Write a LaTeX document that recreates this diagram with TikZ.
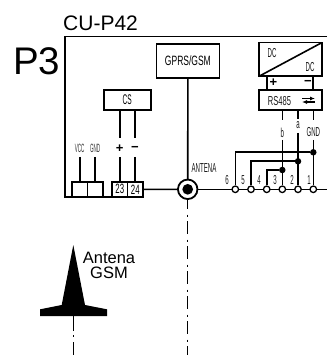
\documentclass[tikz,border=0pt]{standalone}
\usepackage{fontspec}
\usetikzlibrary{arrows.meta}
\setmainfont{Liberation Sans}
\newfontfamily\nfa[FakeStretch=0.38]{Liberation Sans}
\newfontfamily\nfb[FakeStretch=0.47]{Liberation Sans}
\newfontfamily\nfc[FakeStretch=0.58]{Liberation Sans}
\newfontfamily\nfd[FakeStretch=0.63]{Liberation Sans}
\begin{document}
\begin{tikzpicture}[x=1pt,y=-1pt,
  wire/.style={line width=1.6pt,draw=black},
  dashdot/.style={line width=1.3pt,draw=black,dash pattern=on 13pt off 5.2pt on 2pt off 4.8pt,dash phase=2.6pt},
  dashdotb/.style={line width=1.3pt,draw=black,dash pattern=on 15pt off 4.2pt on 2pt off 4.8pt},
  boxn/.style={draw=black,line width=1.6pt,fill=white,inner sep=0pt,outer sep=0pt,anchor=north west},
  term/.style={circle,draw=black,line width=1.3pt,fill=white,inner sep=0pt,minimum size=6.5pt},
  jdot/.style={circle,fill=black,inner sep=0pt,minimum size=6.5pt},
  lab/.style={inner sep=0pt,text=black!90,font=\nfb\fontsize{13}{13}\selectfont},
  tiny/.style={inner sep=0pt,text=black!80,font=\nfa\fontsize{12}{12}\selectfont},
  sign/.style={inner sep=0pt,font=\fontsize{13}{13}\selectfont\bfseries}]
\useasboundingbox (0,0) rectangle (327,355);
% frame
\coordinate (fr) at (327,36.5);
\coordinate (fl) at (64.8,36.5);
\coordinate (bl) at (64.8,197);
\coordinate (br) at (327,189.3);
\node[inner sep=0pt,anchor=west,font=\fontsize{21}{21}\selectfont] (title) at (63,23) {CU-P42};
\node[inner sep=0pt,anchor=west,font=\fontsize{38.5}{38}\selectfont] (p3) at (13,61) {P3};
% terminal blocks
\draw[wire] (fr) -- (fl) -- (bl) -- (112,197);
\node[boxn,minimum width=15.5pt,minimum height=15.3pt] (tA) at (72,181.7) {};
\node[boxn,minimum width=15.5pt,minimum height=15.3pt] (tB) at (87.5,181.7) {};
\node[boxn,minimum width=15.5pt,minimum height=15.3pt,font=\nfc\fontsize{13.5}{13}\selectfont] (t23) at (112,181.7) {23};
\node[boxn,minimum width=15.5pt,minimum height=15.3pt,font=\nfc\fontsize{13.5}{13}\selectfont] (t24) at (127.5,181.7) {24};
% CS
\node[boxn,minimum width=47pt,minimum height=20pt,font=\nfb\fontsize{14}{14}\selectfont] (cs) at (103.7,90) {CS};
\coordinate (csa) at (119.7,110); \coordinate (csb) at (135,110);
\coordinate (csa1) at (119.7,138); \coordinate (csb1) at (135,138);
\coordinate (csa2) at (119.7,157); \coordinate (csb2) at (135,157);
\coordinate (csa3) at (119.7,182); \coordinate (csb3) at (135,182);
\draw[wire] (csa) -- (csa1) (csb) -- (csb1) (csa2) -- (csa3) (csb2) -- (csb3);
\node[sign] (plus) at (119.7,148.5) {+};
\node[sign] (minus) at (135,148.5) {−};
\coordinate (va) at (79.7,157); \coordinate (va1) at (79.7,182);
\coordinate (vb) at (95.2,157); \coordinate (vb1) at (95.2,182);
\draw[wire] (va) -- (va1) (vb) -- (vb1);
\node[tiny] (vcc) at (79.7,148.5) {VCC};
\node[tiny] (gndl) at (95.2,148.5) {GND};
% GPRS
\node[boxn,minimum width=62.8pt,minimum height=34pt,font=\nfd\fontsize{13.5}{13}\selectfont] (gprs) at (156.5,44) {GPRS/GSM};
\node[circle,draw=black,line width=1.8pt,fill=white,minimum size=19.5pt,inner sep=0pt,outer sep=0pt] (ant) at (187.7,189.3) {};
\node[circle,fill=black,minimum size=10.7pt,inner sep=0pt] (antin) at (187.7,189.3) {};
\node[lab] (antena) at (204,168) {ANTENA};
\draw[wire] (gprs.south) -- (ant.north);
\draw[wire] (t24.east) -- (ant.west);
\coordinate (antend) at (187.7,355);
\draw[dashdot] (ant.south) -- (antend);
% DC/DC + RS485
\node[boxn,minimum width=62.7pt,minimum height=33.6pt] (dc) at (259,42.7) {};
\draw[wire] (dc.south west) -- (dc.north east);
\node[lab] (dc1) at (272,53.5) {DC};
\node[lab] (dc2) at (310,67.5) {DC};
\node[boxn,minimum width=62.7pt,minimum height=20pt] (rs) at (259,90) {};
\node[lab,font=\nfc\fontsize{13}{13}\selectfont] (rstxt) at (279.5,101.5) {RS485};
\coordinate (pa) at (267,76.3); \coordinate (pb) at (267,90);
\coordinate (ma) at (313,76.3); \coordinate (mb) at (313,90);
\draw[wire] (pa) -- (pb) (ma) -- (mb);
\node[sign] (dcp) at (273.5,83) {+};
\node[sign] (dcm) at (308,83) {−};
% arrows symbol
\coordinate (s1a) at (302,98.5); \coordinate (s1b) at (315,98.5);
\coordinate (s2a) at (302,102); \coordinate (s2b) at (315,102);
\draw[line width=1.2pt,-{Latex[length=5pt,width=4pt]}] (s1a) -- (s1b);
\draw[line width=1.2pt,-{Latex[length=5pt,width=4pt]}] (s2b) -- (s2a);
% bus line terminals
\draw[wire] (ant.east) -- (br);
\node[term] (n6) at (235.3,189.3) {};
\node[term] (n5) at (251,189.3) {};
\node[term] (n4) at (266.7,189.3) {};
\node[term] (n3) at (282.3,189.3) {};
\node[term] (n2) at (298,189.3) {};
\node[term] (n1) at (313.3,189.3) {};
\node[lab,anchor=base] (l6) at (227,184.5) {6};
\node[lab,anchor=base] (l5) at (243,184.5) {5};
\node[lab,anchor=base] (l4) at (259,184.5) {4};
\node[lab,anchor=base] (l3) at (275,184.5) {3};
\node[lab,anchor=base] (l2) at (292,184.5) {2};
\node[lab,anchor=base] (l1) at (309,184.5) {1};
% signal lines
\node[lab] (lb) at (282.3,132.5) {b};
\node[lab] (la) at (298,125) {a};
\node[lab] (lg) at (313.3,132) {GND};
\coordinate (rb) at (282.3,110); \coordinate (ra) at (298,110); \coordinate (rg) at (313.3,110);
\coordinate (rb1) at (282.3,120); \coordinate (ra1) at (298,119); \coordinate (rg1) at (313.3,120);
\coordinate (rb2) at (282.3,140); \coordinate (ra2) at (298,133); \coordinate (rg2) at (313.3,140);
\draw[wire] (rb) -- (rb1) (ra) -- (ra1) (rg) -- (rg1);
\draw[wire] (rb2) -- (n3.north) (ra2) -- (n2.north) (rg2) -- (n1.north);
\node[jdot] (j1) at (313.3,152.3) {};
\node[jdot] (j2) at (298,161.3) {};
\node[jdot] (j3) at (282.3,170) {};
\draw[wire] (n6.north) |- (j1);
\draw[wire] (n5.north) |- (j2);
\draw[wire] (n4.north) |- (j3);
% antenna
\fill[black] (73.3,245) -- (85,305) -- (107,309.3) -- (107,316) -- (40,316) -- (40,309.3) -- (61.7,305) -- cycle;
\coordinate (ag) at (73.3,316); \coordinate (age) at (73.3,355);
\draw[dashdotb] (ag) -- (age);
\node[inner sep=0pt,align=center,font=\fontsize{16.5}{15.5}\selectfont] (agt) at (109,265.5) {Antena\\GSM};
\end{tikzpicture}
\end{document}
